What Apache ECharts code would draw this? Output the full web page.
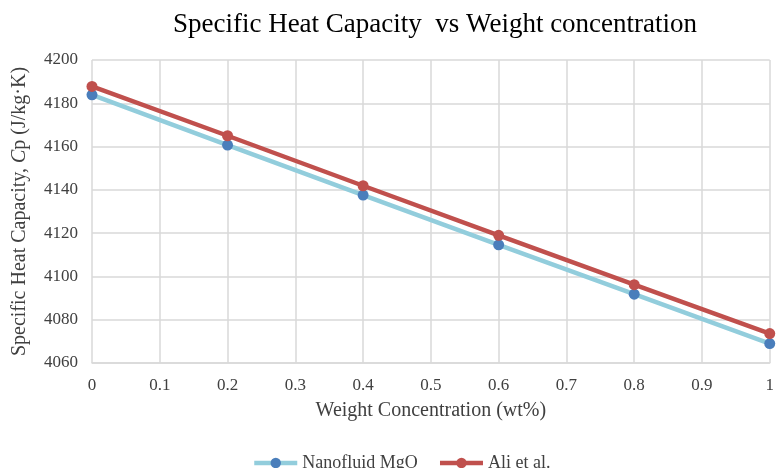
<!DOCTYPE html>
<html>
<head>
<meta charset="utf-8">
<script src="https://cdn.jsdelivr.net/npm/echarts@6/dist/echarts.min.js"></script>
<style>
  html, body { margin: 0; padding: 0; background: #fff; }
  #chart { width: 777px; height: 468px; }
</style>
</head>
<body>
<div id="chart"></div>
<script>
// Weight concentration (wt%)
const concentration = [0, 0.2, 0.4, 0.6, 0.8, 1.0];
// Specific heat capacity, J/kg·K
const nanofluidMgO = [4183.9, 4160.7, 4137.6, 4114.6, 4091.8, 4069.0];
const aliEtAl = [4187.8, 4165.0, 4141.9, 4119.0, 4096.2, 4073.6];

const serif = '"Liberation Serif", "Times New Roman", serif';
const textColor = '#404040';

const chart = echarts.init(document.getElementById('chart'));
chart.setOption({
  animation: false,
  title: {
    text: 'Specific Heat Capacity  vs Weight concentration',
    left: 430,
    textAlign: 'center',
    top: 6,
    textStyle: { fontFamily: serif, fontSize: 27, fontWeight: 'normal', color: '#000' }
  },
  grid: { left: 92, right: 3, top: 60, bottom: 105 },
  legend: {
    top: 449,
    left: 247,
    itemWidth: 43,
    itemHeight: 13,
    itemGap: 20,
    lineStyle: { width: 4.5 },
    textStyle: { fontFamily: serif, fontSize: 18, color: textColor }
  },
  xAxis: {
    type: 'value',
    min: 0, max: 1, interval: 0.1,
    name: 'Weight Concentration (wt%)',
    nameLocation: 'middle',
    nameGap: 38,
    nameTextStyle: { fontFamily: serif, fontSize: 20, color: textColor },
    axisLine: { show: true, lineStyle: { color: '#d9d9d9', width: 1.5 } },
    axisTick: { show: false },
    axisLabel: { fontFamily: serif, fontSize: 17, color: textColor, margin: 14,
      formatter: v => String(+v.toFixed(1)) },
    splitLine: { show: true, lineStyle: { color: '#d9d9d9', width: 1.5 } }
  },
  yAxis: {
    type: 'value',
    min: 4060, max: 4200, interval: 20,
    name: '{a|Specific Heat Capacity, }{i|C}{a|p (J/kg·K)}',
    nameLocation: 'middle',
    nameGap: 62,
    nameTextStyle: {
      fontFamily: serif, fontSize: 20, color: textColor,
      rich: {
        a: { fontFamily: serif, fontSize: 20, color: textColor },
        i: { fontFamily: serif, fontSize: 20, color: textColor, fontStyle: 'italic' }
      }
    },
    axisLine: { show: false },
    axisTick: { show: false },
    axisLabel: { fontFamily: serif, fontSize: 17, color: textColor, margin: 14,
      formatter: v => String(v) },
    splitLine: { show: true, lineStyle: { color: '#d9d9d9', width: 1.5 } }
  },
  series: [
    {
      name: 'Nanofluid MgO',
      type: 'line',
      data: concentration.map((c, i) => [c, nanofluidMgO[i]]),
      symbol: 'circle',
      symbolSize: 11,
      lineStyle: { color: '#92CDDC', width: 4.5 },
      itemStyle: { color: '#4A7EBB', borderWidth: 0 },
      z: 2
    },
    {
      name: 'Ali et al.',
      type: 'line',
      data: concentration.map((c, i) => [c, aliEtAl[i]]),
      symbol: 'circle',
      symbolSize: 11,
      lineStyle: { color: '#C0504D', width: 4.5 },
      itemStyle: { color: '#C0504D', borderWidth: 0 },
      z: 3
    }
  ]
});
</script>
</body>
</html>
